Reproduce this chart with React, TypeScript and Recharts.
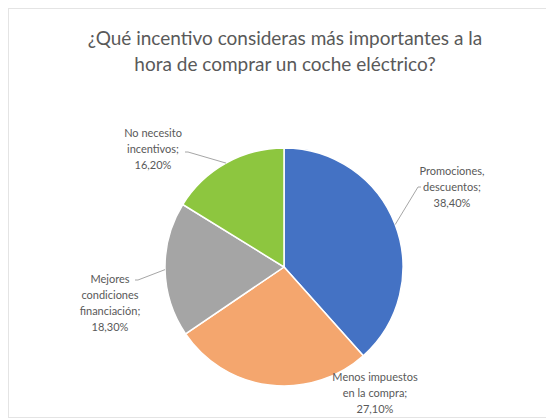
import React from "react";
import { PieChart, Pie, Cell } from "recharts";

const categories = [
  "Promociones, descuentos",
  "Menos impuestos en la compra",
  "Mejores condiciones financiación",
  "No necesito incentivos",
];
const values = [38.4, 27.1, 18.3, 16.2];
const labelLines = [
  ["Promociones,", "descuentos;"],
  ["Menos impuestos", "en la compra;"],
  ["Mejores", "condiciones", "financiación;"],
  ["No necesito", "incentivos;"],
];
const colors = ["#4472C4", "#F4A66E", "#A5A5A5", "#8DC63F"];

// label block centre and leader end, relative to the pie centre
const labelPos = [
  { dx: 168, dy: -81, lx: 134, ly: -80, hook: 3 },
  { dx: 91, dy: 125, lx: null, ly: null, hook: 0 },
  { dx: -174, dy: 35, lx: -146, ly: 13, hook: -3 },
  { dx: -131, dy: -119, lx: -96, ly: -115, hook: -3 },
];

const data = categories.map((name, i) => ({ name, value: values[i] }));

const RADIAN = Math.PI / 180;
const LINE_H = 16;

function renderLabel(props: any) {
  const { cx, cy, midAngle, outerRadius, index, value } = props;
  const pos = labelPos[index];
  const lines = [...labelLines[index], value.toFixed(2).replace(".", ",") + "%"];
  const tx = cx + pos.dx;
  const top = cy + pos.dy - ((lines.length - 1) * LINE_H) / 2;
  let leader = null;
  if (pos.lx !== null) {
    const ex = cx + outerRadius * Math.cos(-midAngle * RADIAN);
    const ey = cy + outerRadius * Math.sin(-midAngle * RADIAN);
    const ax = cx + pos.lx;
    const ay = cy + pos.ly;
    leader = (
      <path
        d={`M${ex},${ey}L${ax},${ay}L${ax + pos.hook},${ay}`}
        stroke="#A6A6A6"
        strokeWidth={1}
        fill="none"
      />
    );
  }
  return (
    <g key={"lbl" + index}>
      {leader}
      <text
        x={tx}
        y={top}
        textAnchor="middle"
        dominantBaseline="central"
        fill="#595959"
        fontSize={11}
        fontFamily="Lato, 'Open Sans', sans-serif"
      >
        {lines.map((l, i) => (
          <tspan key={i} x={tx} y={top + i * LINE_H}>
            {l}
          </tspan>
        ))}
      </text>
    </g>
  );
}

export default function App() {
  return (
    <div
      style={{
        position: "relative",
        width: 545,
        height: 408,
        border: "1px solid #E4E4E4",
        background: "#fff",
        fontFamily: "Lato, 'Open Sans', sans-serif",
      }}
    >
      <div
        style={{
          position: "absolute",
          top: 16,
          left: 0,
          width: "100%",
          paddingLeft: 7,
          boxSizing: "border-box",
          textAlign: "center",
          fontSize: 19,
          lineHeight: "26px",
          color: "#595959",
        }}
      >
        ¿Qué incentivo consideras más importantes a la
        <br />
        hora de comprar un coche eléctrico?
      </div>
      <PieChart width={545} height={408} style={{ position: "absolute", top: 0, left: 0 }}>
        <Pie
          data={data}
          dataKey="value"
          nameKey="name"
          cx={270}
          cy={253}
          outerRadius={119}
          startAngle={90}
          endAngle={-270}
          stroke="#fff"
          strokeWidth={1.5}
          label={renderLabel}
          labelLine={false}
          isAnimationActive={false}
        >
          {data.map((d, i) => (
            <Cell key={d.name} fill={colors[i]} />
          ))}
        </Pie>
      </PieChart>
    </div>
  );
}
